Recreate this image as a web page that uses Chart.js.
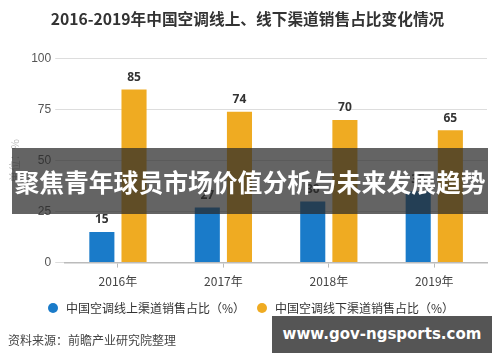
<!DOCTYPE html>
<html>
<head>
<meta charset="utf-8">
<script src="https://cdn.jsdelivr.net/npm/chart.js@4.4.0/dist/chart.umd.min.js"></script>
<style>
  html, body { margin: 0; padding: 0; background: #fff; }
  #wrap { position: relative; width: 500px; height: 362px; font-family: "Noto Sans CJK SC", "Noto Sans", sans-serif; }
  #legend { position: absolute; left: 0; top: 299px; width: 500px; height: 18px; font-size: 12px; color: #333; }
  #legend .item { position: absolute; top: 0; white-space: nowrap; line-height: 18px; }
  #legend .dot { position: absolute; top: 4px; width: 10px; height: 10px; border-radius: 50%; }
  #source { position: absolute; left: 8px; top: 331px; font-size: 12px; color: #444; }
  #app { position: absolute; left: 385px; top: 331px; font-size: 12px; color: #444; }
  #banner { position: absolute; left: 12px; top: 148px; width: 476px; height: 66px; background: rgba(40,40,40,0.72);
            color: #fff; font-weight: bold; font-size: 24.8px; line-height: 66px; text-align: center; white-space: nowrap; }
  #site { position: absolute; left: 272px; top: 316px; width: 220px; height: 37px; background: #555; white-space: nowrap;
          color: #fff; font-weight: bold; font-size: 15px; line-height: 37px; text-align: center; font-family: "DejaVu Sans", sans-serif; }
</style>
</head>
<body>
<div id="wrap">
  <canvas id="chart" width="500" height="362"></canvas>
  <div id="legend"></div>
  <div id="source">资料来源：前瞻产业研究院整理</div>
  <div id="app">@前瞻经济学人APP</div>
  <div id="banner">聚焦青年球员市场价值分析与未来发展趋势</div>
  <div id="site">www.gov-ngsports.com</div>
</div>
<script>
var years = ['2016年', '2017年', '2018年', '2019年'];
var online = [15, 27, 30, 35];
var offline = [85, 74, 70, 65];
var yTicks = [0, 25, 50, 75, 100];

var barLabels = {
    id: 'barLabels',
    afterDatasetsDraw: function(chart) {
        var ctx = chart.ctx;
        ctx.save();
        ctx.font = 'bold 12px "Noto Sans", sans-serif';
        ctx.fillStyle = '#333';
        ctx.textAlign = 'center';
        ctx.textBaseline = 'bottom';
        chart.data.datasets.forEach(function(ds, i) {
            chart.getDatasetMeta(i).data.forEach(function(bar, j) {
                ctx.fillText(ds.data[j], bar.x, bar.y - 6);
            });
        });
        ctx.restore();
    }
};

var chart = new Chart(document.getElementById('chart').getContext('2d'), {
    type: 'bar',
    data: {
        labels: years,
        datasets: [{
            label: '中国空调线上渠道销售占比（%）',
            data: online,
            backgroundColor: '#1a7bc9'
        }, {
            label: '中国空调线下渠道销售占比（%）',
            data: offline,
            backgroundColor: '#efab22'
        }]
    },
    options: {
        responsive: false,
        animation: false,
        layout: { padding: { left: 8, right: 13, top: 0, bottom: 66 } },
        barPercentage: 0.78,
        categoryPercentage: 0.61,
        plugins: {
            title: {
                display: true,
                text: '2016-2019年中国空调线上、线下渠道销售占比变化情况',
                color: '#333',
                font: { size: 15.7, weight: 'bold', family: '"Noto Sans CJK SC", sans-serif' },
                padding: { top: 10, bottom: 30 }
            },
            legend: { display: false },
            tooltip: { enabled: false }
        },
        scales: {
            x: {
                grid: { display: true, drawOnChartArea: false, offset: false, tickLength: 5, color: '#bbb' },
                border: { color: '#bbb', width: 1.5 },
                ticks: { color: '#444', font: { size: 12, family: '"Noto Sans CJK SC", sans-serif' }, padding: 7 }
            },
            y: {
                min: 0,
                max: 100,
                afterBuildTicks: function(scale) {
                    scale.ticks = yTicks.map(function(v) { return { value: v }; });
                },
                grid: { color: '#ddd', tickLength: 10 },
                border: { display: false },
                ticks: { color: '#555', font: { size: 12 }, padding: 4 },
                title: {
                    display: true,
                    text: '单位：%',
                    color: '#bbb',
                    font: { size: 11, family: '"Noto Sans CJK SC", sans-serif' },
                    padding: { top: 0, bottom: 6 }
                }
            }
        }
    },
    plugins: [barLabels]
});

// legend built from the chart's datasets
var legendX = [48, 257];
var legendEl = document.getElementById('legend');
chart.data.datasets.forEach(function(ds, i) {
    var item = document.createElement('div');
    item.className = 'item';
    item.style.left = legendX[i] + 'px';
    item.innerHTML = '<span class="dot" style="left:0;background:' + ds.backgroundColor + '"></span>' +
        '<span style="margin-left:18px">' + ds.label + '</span>';
    legendEl.appendChild(item);
});
</script>
</body>
</html>
